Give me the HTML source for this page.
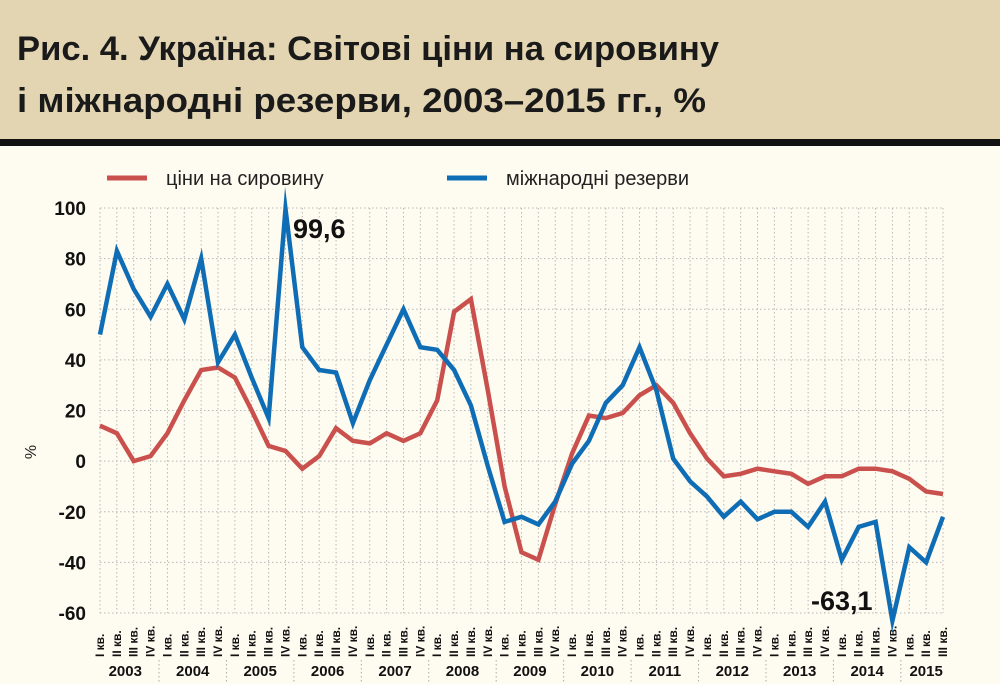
<!DOCTYPE html>
<html><head><meta charset="utf-8"><style>
body{margin:0;background:#fefbf0;}
svg{display:block;font-family:"Liberation Sans",sans-serif;}
</style></head><body>
<svg id="chart" width="1000" height="684" viewBox="0 0 1000 684">
<rect x="0" y="0" width="1000" height="684" fill="#fefbf0"/>
<rect x="0" y="0" width="1000" height="139" fill="#e3d5b2"/>
<rect x="0" y="139" width="1000" height="7" fill="#111"/>
<text x="17" y="60" font-size="34" font-weight="bold" fill="#1a1a1a" textLength="702" lengthAdjust="spacingAndGlyphs">Рис. 4. Україна: Світові ціни на сировину</text>
<text x="17" y="112" font-size="34" font-weight="bold" fill="#1a1a1a" textLength="689" lengthAdjust="spacingAndGlyphs">і міжнародні резерви, 2003–2015 гг., %</text>
<g>
<line x1="107" y1="178" x2="147" y2="178" stroke="#c9504c" stroke-width="5"/>
<text x="166" y="185" font-size="20" fill="#222">ціни на сировину</text>
<line x1="447" y1="178" x2="487" y2="178" stroke="#0f6db5" stroke-width="5"/>
<text x="506" y="185" font-size="20" fill="#222">міжнародні резерви</text>
</g>
<g id="grid"></g>
<g id="yticks"></g>
<text transform="translate(36,452) rotate(-90)" font-size="16" fill="#222" text-anchor="middle">%</text>
<g id="xticks"></g>
<g id="series"></g>
<text x="293" y="238" font-size="27" font-weight="bold" fill="#111">99,6</text>
<text x="811" y="610" font-size="27" font-weight="bold" fill="#111">-63,1</text>
</svg>
<script>
const years = ["2003","2004","2005","2006","2007","2008","2009","2010","2011","2012","2013","2014","2015"];
const quarterLabels = ["I кв.","II кв.","III кв.","IV кв."];
const yTicks = [100,80,60,40,20,0,-20,-40,-60];
const prices = [14,11,0,2,11,24,36,37,33,20,6,4,-3,2,13,8,7,11,8,11,24,59,64,28,-10,-36,-39,-17,3,18,17,19,26,30,23,11,1,-6,-5,-3,-4,-5,-9,-6,-6,-3,-3,-4,-7,-12,-13];
const reserves = [50,83,68,57,70,56,80,39,50,33,17,99.6,45,36,35,15,32,46,60,45,44,36,22,-2,-24,-22,-25,-16,-1,8,23,30,45,28,1,-8,-14,-22,-16,-23,-20,-20,-26,-16,-39,-26,-24,-63.1,-34,-40,-22];

const NS="http://www.w3.org/2000/svg";
const x0=100, step=16.86, yTop=208, yBot=613, vMax=100, vMin=-60;
function xs(i){return x0+i*step;}
function ys(v){return yTop+(vMax-v)*(yBot-yTop)/(vMax-vMin);}
function mk(tag,attrs,parent){const e=document.createElementNS(NS,tag);for(const k in attrs)e.setAttribute(k,attrs[k]);parent.appendChild(e);return e;}
const n=prices.length;
const grid=document.getElementById('grid');
for(let i=0;i<n;i++){
  const l=mk('line',{x1:xs(i),x2:xs(i),y1:yTop,y2:yBot,stroke:'#b8b8b8','stroke-width':1,'stroke-dasharray':'1.5,2.5'},grid);
  
  
}
const yt=document.getElementById('yticks');
yTicks.forEach(v=>{
  const l=mk('line',{x1:x0,x2:xs(n-1),y1:ys(v),y2:ys(v),stroke:'#b8b8b8','stroke-width':1,'stroke-dasharray':'1.5,2.5'},grid);
  
  
  const t=mk('text',{x:86,y:ys(v)+7,'font-size':19,'font-weight':'bold','text-anchor':'end',fill:'#111'},yt);
  t.textContent=v;
  
  
});
const xt=document.getElementById('xticks');
for(let i=0;i<n;i++){
  const t=mk('text',{transform:`translate(${xs(i)+4},${657}) rotate(-90)`,'font-size':12,'font-weight':'bold',fill:'#111'},xt);
  t.textContent=quarterLabels[i%4];
  
  
}
years.forEach((y,k)=>{
  const first=k*4, last=Math.min(k*4+3,n-1);
  const cx=(xs(first)+xs(last))/2;
  const t=mk('text',{x:cx,y:676,'font-size':15,'font-weight':'bold','text-anchor':'middle',fill:'#111'},xt);
  t.textContent=y;
  
  
  if(k>0){
    const sx=xs(first)-step/2;
    const s=mk('line',{x1:sx,x2:sx,y1:660,y2:684,stroke:'#aaa','stroke-dasharray':'1.5,2.5'},xt);
    
    
  }
});
const ser=document.getElementById('series');
function path(vals){return vals.map((v,i)=>(i?'L':'M')+xs(i).toFixed(1)+','+ys(v).toFixed(1)).join(' ');}
const pr=mk('path',{d:path(prices),fill:'none',stroke:'#c9504c','stroke-width':4.5,'stroke-linejoin':'miter','stroke-miterlimit':10},ser);


const rs=mk('path',{d:path(reserves),fill:'none',stroke:'#0f6db5','stroke-width':4.5,'stroke-linejoin':'miter','stroke-miterlimit':10},ser);


</script>
</body></html>
